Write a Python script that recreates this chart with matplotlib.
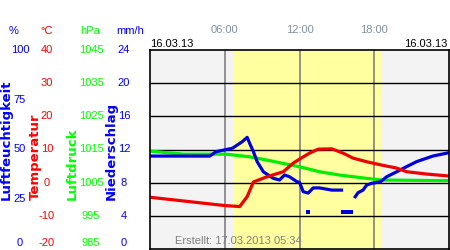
import numpy as np
import matplotlib.pyplot as plt

plt.rcParams['font.family'] = ['Liberation Sans', 'DejaVu Sans']

# hours of the day and readings
temp_h = [0, 6.0, 7.2, 7.8, 8.3, 9.4, 10.7, 11.5, 12.0, 12.8, 13.5, 14.6, 15.5, 16.3, 17.4, 18.6, 19.8, 20.6, 22.2, 24]
temp_c = [-4.4, -6.9, -7.2, -4.2, 0.2, 1.8, 3.3, 5.9, 7.1, 8.9, 10.1, 10.2, 8.9, 7.4, 6.3, 5.3, 4.4, 3.3, 2.6, 2.0]

pres_h = [0, 2.7, 6.1, 8.0, 9.4, 12.0, 13.6, 15.2, 17.4, 18.6, 24]
pres_hpa = [1014.5, 1013.6, 1013.6, 1012.8, 1011.8, 1009.8, 1008.3, 1007.3, 1006.3, 1005.8, 1005.6]

hum_h = [0, 4.8, 5.3, 6.6, 6.9, 7.4, 7.8, 8.0, 8.3, 8.6, 9.1, 9.9, 10.4, 10.8, 11.2, 11.8, 12.0,
         12.3, 12.7, 13.1, 13.6, 14.6, 15.5, 15.9, 16.4, 16.7, 17.1, 17.4, 17.8, 18.5, 19.0, 19.8,
         20.6, 21.4, 22.7, 24]
hum_pct = [46.7, 46.7, 48.9, 50.6, 51.8, 53.9, 56.1, 53.1, 48.9, 43.9, 38.8, 35.5, 34.7, 37.2, 36.3, 33.8, 33.5,
           28.8, 28.1, 30.7, 30.7, 29.6, 29.6, np.nan, 25.6, 28.3, 29.6, 32.2, 33.0, 33.8, 36.3, 38.8,
           41.4, 43.9, 46.7, 48.4]
hum_out_h = [12.7, 15.5, 15.7, 15.9, 16.1]
hum_out_pct = [18.6, 18.6, 18.6, 18.6, 18.6]

pct_ticks = [0, 25, 50, 75, 100]
temp_ticks = [-20, -10, 0, 10, 20, 30, 40]
pres_ticks = [985, 995, 1005, 1015, 1025, 1035, 1045]
rain_ticks = [0, 4, 8, 12, 16, 20, 24]
time_ticks = [6, 12, 18]
time_labels = ['06:00', '12:00', '18:00']

fig = plt.figure(figsize=(4.5, 2.5), dpi=100)
ax = fig.add_axes([150/450, 1/250, 299/450, 199/250])
ax.set_xlim(0, 24)
ax.set_ylim(-20, 40)
ax.set_facecolor('#f3f3f3')
ax.axvspan(6.65, 18.6, color='#ffffa0', lw=0)
for t in time_ticks:
    ax.axvline(t, color='#808080', lw=1.2)
for v in temp_ticks[1:-1]:
    ax.axhline(v, color='black', lw=1)

# each series gets its own scale, mapped onto the temperature axis
def to_temp(v, lo, hi):
    return -20 + (np.array(v, dtype=float) - lo) / (hi - lo) * 60

lw = 2.3
ax.plot(pres_h, to_temp(pres_hpa, 985, 1045), color='#00ee00', lw=lw, solid_capstyle='butt')
ax.plot(hum_h, to_temp(hum_pct, 0, 100), color='#0000dd', lw=lw, solid_capstyle='butt')
ax.plot(hum_out_h, to_temp(hum_out_pct, 0, 100), 's', color='#0000dd', ms=2.3, mew=0)
ax.plot(temp_h, temp_c, color='#ee0000', lw=lw, solid_capstyle='butt')

ax.set_xticks([])
ax.set_yticks([])
for s in ax.spines.values():
    s.set_linewidth(1.2)

# tick label columns on the left
def fy(v, lo, hi):
    return (1 + (v - lo) / (hi - lo) * 199) / 250

fs = 8
for v in pct_ticks:
    fig.text(20/450, max(fy(v, 0, 100), 7/250), str(v), color='#0000ff', fontsize=fs, ha='center', va='center')
for v in temp_ticks:
    fig.text(47/450, max(fy(v, -20, 40), 7/250), str(v), color='#ff0000', fontsize=fs, ha='center', va='center')
for v in pres_ticks:
    fig.text(91/450, max(fy(v, 985, 1045), 7/250), str(v), color='#00ff00', fontsize=fs, ha='center', va='center')
for v in rain_ticks:
    fig.text(124/450, max(fy(v, 0, 24), 7/250), str(v), color='#0000ff', fontsize=fs, ha='center', va='center')

for x, u, c in [(14, '%', '#0000ff'), (47, '°C', '#ff0000'), (90, 'hPa', '#00ff00'), (130, 'mm/h', '#0000ff')]:
    fig.text(x/450, 1 - 31/250, u, color=c, fontsize=fs, ha='center', va='center')

for x, lab, c in [(6, 'Luftfeuchtigkeit', '#0000ff'), (35, 'Temperatur', '#ff0000'),
                  (72, 'Luftdruck', '#00ff00'), (111, 'Niederschlag', '#0000ff')]:
    fig.text(x/450, 50/250, lab, color=c, fontsize=9.5, fontweight='bold', rotation=90,
             ha='center', va='bottom', family='DejaVu Sans')

# time labels and dates on top
for t, lab in zip(time_ticks, time_labels):
    fig.text((150 + t * 299/24)/450, 1 - 30/250, lab, color='#8090a0', fontsize=fs, ha='center', va='center')
fig.text(150/450, 1 - 44/250, '16.03.13', color='black', fontsize=fs, ha='left', va='center')
fig.text(447/450, 1 - 44/250, '16.03.13', color='black', fontsize=fs, ha='right', va='center')
fig.text(175/450, 1 - 241/250, 'Erstellt: 17.03.2013 05:34', color='#808080', fontsize=fs, ha='left', va='center')

fig.savefig('out.png', dpi=100)
